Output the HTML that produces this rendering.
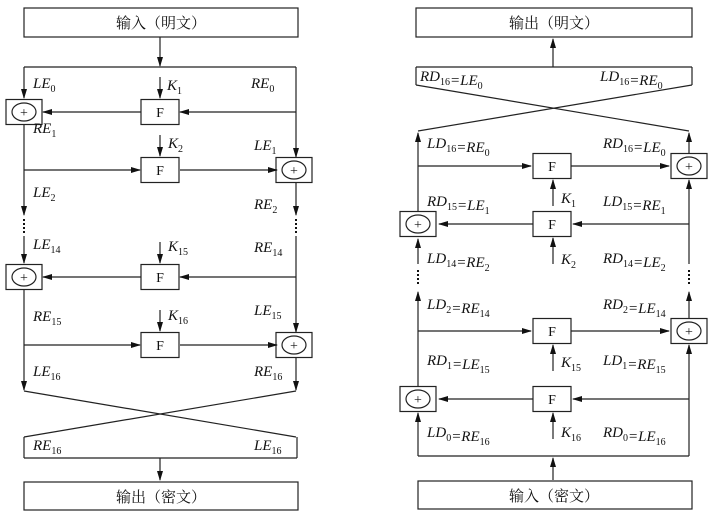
<!DOCTYPE html>
<html><head><meta charset="utf-8"><style>
html,body{margin:0;padding:0;background:#fff;}
svg{display:block;}
.t{font-family:"Liberation Serif","Noto Serif CJK SC",serif;font-style:italic;font-size:15px;fill:#111;}
.c{font-family:"Liberation Serif","Noto Serif CJK SC","Noto Sans CJK SC",serif;font-size:15px;fill:#111;}
.f{font-family:"Liberation Serif",serif;font-size:14px;fill:#111;}
</style></head><body>
<svg id="s" width="717" height="520" viewBox="0 0 717 520" xmlns="http://www.w3.org/2000/svg">
<defs><marker id="ah" markerWidth="10" markerHeight="8" refX="9" refY="4" orient="auto" markerUnits="userSpaceOnUse"><path d="M0,1 L10,4 L0,7 Z" fill="#111"/></marker></defs>
<g id="g" stroke="#222" stroke-width="1.2" fill="none"></g>
<g id="tx"></g>
</svg>
<script>
const NS='http://www.w3.org/2000/svg';
const g=document.getElementById('g'),tx=document.getElementById('tx');
function el(tag,at,parent){const e=document.createElementNS(NS,tag);for(const k in at)e.setAttribute(k,at[k]);(parent||g).appendChild(e);return e;}
function ln(x1,y1,x2,y2,arrow){const e=el('line',{x1,y1,x2,y2});if(arrow)e.setAttribute('marker-end','url(#ah)');

return e;}
function rect(x,y,w,h,name){const e=el('rect',{x,y,width:w,height:h});

return e;}
function xor(cx,cy){const r=rect(cx-18,cy-12.5,36,25,'xor-box');el('ellipse',{cx,cy,rx:12,ry:9});
const t=el('text',{x:cx,y:cy+5,'text-anchor':'middle','class':'f'},tx);t.textContent='+';

}
function fbox(cx,cy){rect(cx-19,cy-12.5,38,25,'f-box');const t=el('text',{x:cx,y:cy+5,'text-anchor':'middle','class':'f'},tx);t.textContent='F';

}
function ctext(x,y,s,name){const t=el('text',{x,y,'text-anchor':'middle','class':'c'},tx);t.textContent=s;

}
// label: parts like [['LE','0']] or [['RD','16'],['=LE','0']]
function lab(x,y,parts,name){const t=el('text',{x,y,'class':'t'},tx);
parts.forEach(p=>{const a=el('tspan',{},t);a.textContent=p[0];const b=el('tspan',{dy:4,'font-size':'10','font-style':'normal'},t);b.textContent=p[1];const c=el('tspan',{dy:-4},t);c.textContent='';});

}
function dots(x,y){for(let i=0;i<4;i++)el('rect',{x:x-1,y:y+i*4,width:2,height:2,fill:'#111',stroke:'none'});}

// ===== LEFT (encryption) =====
const L=24,R=296,M=160;
rect(24,8,274,29,'input-plaintext-box');ctext(161,28,'输入（明文）','input-plaintext-label');
ln(M,37,M,66,1);ln(L,67,R,67);
ln(L,67,L,98,1);ln(R,67,R,157,1);
// row1 y112
xor(L,112);fbox(M,112);ln(R,112,180,112,1);ln(141,112,43,112,1);ln(M,77,M,98,1);
// row2 y170
fbox(M,170);xor(R-2,170);ln(L,170,140,170,1);ln(180,170,277,170,1);ln(M,135,M,156,1);
ln(L,125,L,215,1);ln(R,183,R,215,1);dots(L,219);dots(R,219);
ln(L,236,L,263,1);ln(R,236,R,332,1);
// row3 y277
xor(L,277);fbox(M,277);ln(R,277,180,277,1);ln(141,277,43,277,1);ln(M,242,M,263,1);
// row4 y345
fbox(M,345);xor(R-2,345);ln(L,345,140,345,1);ln(180,345,277,345,1);ln(M,310,M,331,1);
ln(L,290,L,390,1);ln(R,358,R,390,1);
ln(L,391,R,437);ln(R,391,L,437);
ln(L,437,L,458);ln(R+1,437,R+1,458);ln(L,458,R+1,458);
ln(M,458,M,480,1);
rect(24,482,274,28,'output-ciphertext-box');ctext(161,502,'输出（密文）','output-ciphertext-label');
lab(33,88,[['LE','0']],'le0');lab(167,90,[['K','1']],'k1');lab(251,88,[['RE','0']],'re0');
lab(33,133,[['RE','1']],'re1');lab(168,148,[['K','2']],'k2');lab(254,150,[['LE','1']],'le1');
lab(33,197,[['LE','2']],'le2');lab(254,209,[['RE','2']],'re2');
lab(33,249,[['LE','14']],'le14');lab(168,251,[['K','15']],'k15');lab(254,252,[['RE','14']],'re14');
lab(33,321,[['RE','15']],'re15');lab(168,320,[['K','16']],'k16');lab(254,315,[['LE','15']],'le15');
lab(33,376,[['LE','16']],'le16');lab(254,376,[['RE','16']],'re16');
lab(33,450,[['RE','16']],'re16-out');lab(254,450,[['LE','16']],'le16-out');

// ===== RIGHT (decryption) =====
const A=418,B=689,N=553;
rect(416,8,276,29,'output-plaintext-box');ctext(554,28,'输出（明文）','output-plaintext-label');
ln(N,67,N,39,1);
ln(416,67,692,67);ln(416,67,416,85);ln(692,67,692,85);
ln(416,85,B,131);ln(692,85,A,131);
// row y166
fbox(552,166);xor(B,166);ln(A,166,531,166,1);ln(571,166,669,166,1);ln(N,206,N,180,1);
// row y224
xor(A,224);fbox(552,224);ln(B,224,573,224,1);ln(533,224,439,224,1);ln(N,264,N,238,1);
ln(A,211,A,133,1);ln(B,153,B,133,1);ln(B,264,B,180,1);ln(A,264,A,239,1);
dots(A,270);dots(B,270);
ln(A,386,A,292,1);ln(B,318,B,292,1);
// row y331
fbox(552,331);xor(B,331);ln(A,331,531,331,1);ln(571,331,669,331,1);ln(N,371,N,345,1);
// row y399
xor(A,399);fbox(552,399);ln(B,399,573,399,1);ln(533,399,439,399,1);ln(N,439,N,413,1);
ln(A,456,A,413,1);ln(B,456,B,345,1);ln(A,456,B,456);
ln(N,480,N,458,1);
rect(418,481,274,28,'input-ciphertext-box');ctext(554,501,'输入（密文）','input-ciphertext-label');
lab(420,81,[['RD','16'],['=LE','0']],'rd16-top');lab(600,81,[['LD','16'],['=RE','0']],'ld16-top');
lab(427,148,[['LD','16'],['=RE','0']],'ld16');lab(603,148,[['RD','16'],['=LE','0']],'rd16');
lab(427,206,[['RD','15'],['=LE','1']],'rd15');lab(561,203,[['K','1']],'dk1');lab(603,206,[['LD','15'],['=RE','1']],'ld15');
lab(427,263,[['LD','14'],['=RE','2']],'ld14');lab(561,264,[['K','2']],'dk2');lab(603,263,[['RD','14'],['=LE','2']],'rd14');
lab(427,309,[['LD','2'],['=RE','14']],'ld2');lab(603,309,[['RD','2'],['=LE','14']],'rd2');
lab(427,365,[['RD','1'],['=LE','15']],'rd1');lab(561,367,[['K','15']],'dk15');lab(603,365,[['LD','1'],['=RE','15']],'ld1');
lab(427,437,[['LD','0'],['=RE','16']],'ld0');lab(561,437,[['K','16']],'dk16');lab(603,437,[['RD','0'],['=LE','16']],'rd0');
</script>
</body></html>
